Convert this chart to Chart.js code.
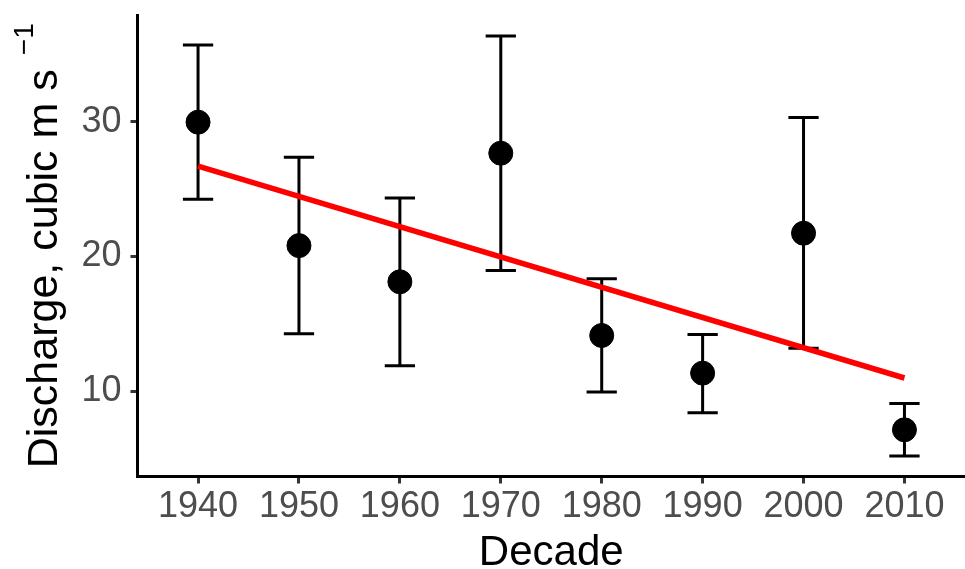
<!DOCTYPE html>
<html>
<head>
<meta charset="utf-8">
<title>Discharge by decade</title>
<script src="https://cdn.jsdelivr.net/npm/chart.js@4.4.1/dist/chart.umd.min.js"></script>
<style>
  html, body { margin: 0; padding: 0; background: #fff; }
  #wrap { width: 965px; height: 569px; }
</style>
</head>
<body>
<div id="wrap"><canvas id="chart" width="965" height="569"></canvas></div>
<script>
// decade means with error bar limits
const decades = [1940, 1950, 1960, 1970, 1980, 1990, 2000, 2010];
const meanDischarge = [29.96, 20.81, 18.13, 27.66, 14.15, 11.36, 21.73, 7.16];
const upperLimit = [35.68, 27.36, 24.33, 36.35, 18.35, 14.22, 30.30, 9.11];
const lowerLimit = [24.25, 14.27, 11.90, 18.96, 9.96, 8.42, 13.21, 5.21];

// fitted trend line end points
const trendX = [1940, 2010];
const trendY = [26.7, 11.0];

const yTicks = [10, 20, 30];

const FONT = "'Liberation Sans', Arial, Helvetica, sans-serif";

// error bars drawn under the points
const errorBars = {
  id: 'errorBars',
  beforeDatasetsDraw(chart) {
    const ctx = chart.ctx;
    const xs = chart.scales.x;
    const ys = chart.scales.y;
    ctx.save();
    ctx.strokeStyle = '#000';
    ctx.lineWidth = 3;
    decades.forEach((d, i) => {
      const x = xs.getPixelForValue(d);
      const half = xs.getPixelForValue(d + 1.5) - x;
      const yHi = ys.getPixelForValue(upperLimit[i]);
      const yLo = ys.getPixelForValue(lowerLimit[i]);
      ctx.beginPath();
      ctx.moveTo(x, yHi); ctx.lineTo(x, yLo);
      ctx.moveTo(x - half, yHi); ctx.lineTo(x + half, yHi);
      ctx.moveTo(x - half, yLo); ctx.lineTo(x + half, yLo);
      ctx.stroke();
    });
    ctx.restore();
  }
};

// axis titles, the y one carries a superscript
const axisTitles = {
  id: 'axisTitles',
  afterDraw(chart) {
    const ctx = chart.ctx;
    const area = chart.chartArea;
    ctx.save();
    ctx.fillStyle = '#000';

    ctx.font = '42px ' + FONT;
    ctx.textAlign = 'center';
    ctx.textBaseline = 'alphabetic';
    ctx.fillText('Decade', (area.left + area.right) / 2, 565);

    const main = 'Discharge, cubic m s';
    const sup = '\u22121';
    ctx.font = '43px ' + FONT;
    const wMain = ctx.measureText(main).width;
    ctx.font = '28px ' + FONT;
    const wSup = ctx.measureText(sup).width;
    const gap = 14;
    const total = wMain + gap + wSup;
    const cy = (area.top + area.bottom) / 2;

    ctx.translate(57, cy + total / 2);
    ctx.rotate(-Math.PI / 2);
    ctx.textAlign = 'left';
    ctx.font = '43px ' + FONT;
    ctx.fillText(main, 0, 0);
    ctx.font = '28px ' + FONT;
    ctx.fillText(sup, wMain + gap, -24);
    ctx.restore();
  }
};

new Chart(document.getElementById('chart'), {
  type: 'scatter',
  data: {
    datasets: [
      {
        type: 'line',
        label: 'Trend',
        data: trendX.map((x, i) => ({ x: x, y: trendY[i] })),
        borderColor: '#ff0000',
        borderWidth: 5.5,
        pointRadius: 0,
        fill: false,
        order: 0
      },
      {
        label: 'Discharge',
        data: decades.map((d, i) => ({ x: d, y: meanDischarge[i] })),
        backgroundColor: '#000',
        borderColor: '#000',
        pointRadius: 12,
        pointHoverRadius: 12,
        order: 1
      }
    ]
  },
  options: {
    responsive: false,
    animation: false,
    layout: {
      autoPadding: false,
      padding: { top: 15, right: 0, bottom: 0, left: 0 }
    },
    plugins: {
      legend: { display: false },
      tooltip: { enabled: false }
    },
    scales: {
      x: {
        type: 'linear',
        min: 1934,
        max: 2016,
        afterFit: (s) => {
          s.height = 92.5;
          s.paddingLeft = 0;
          s.paddingRight = 0;
        },
        afterBuildTicks: (s) => { s.ticks = decades.map(v => ({ value: v })); },
        border: { display: true, color: '#000', width: 3 },
        grid: {
          drawOnChartArea: false,
          drawTicks: true,
          tickLength: 7,
          tickColor: '#333',
          tickWidth: 3
        },
        ticks: {
          color: '#4d4d4d',
          font: { family: FONT, size: 36 },
          padding: 2,
          maxRotation: 0,
          autoSkip: false,
          callback: (v) => String(v)
        }
      },
      y: {
        type: 'linear',
        min: 3.7,
        max: 37.9,
        afterFit: (s) => {
          s.width = 137.5;
          s.paddingTop = 0;
          s.paddingBottom = 0;
        },
        afterBuildTicks: (s) => { s.ticks = yTicks.map(v => ({ value: v })); },
        border: { display: true, color: '#000', width: 3 },
        grid: {
          drawOnChartArea: false,
          drawTicks: true,
          tickLength: 7,
          tickColor: '#333',
          tickWidth: 3
        },
        ticks: {
          color: '#4d4d4d',
          font: { family: FONT, size: 36 },
          padding: 9,
          callback: (v) => String(v)
        }
      }
    }
  },
  plugins: [errorBars, axisTitles]
});
</script>
</body>
</html>
